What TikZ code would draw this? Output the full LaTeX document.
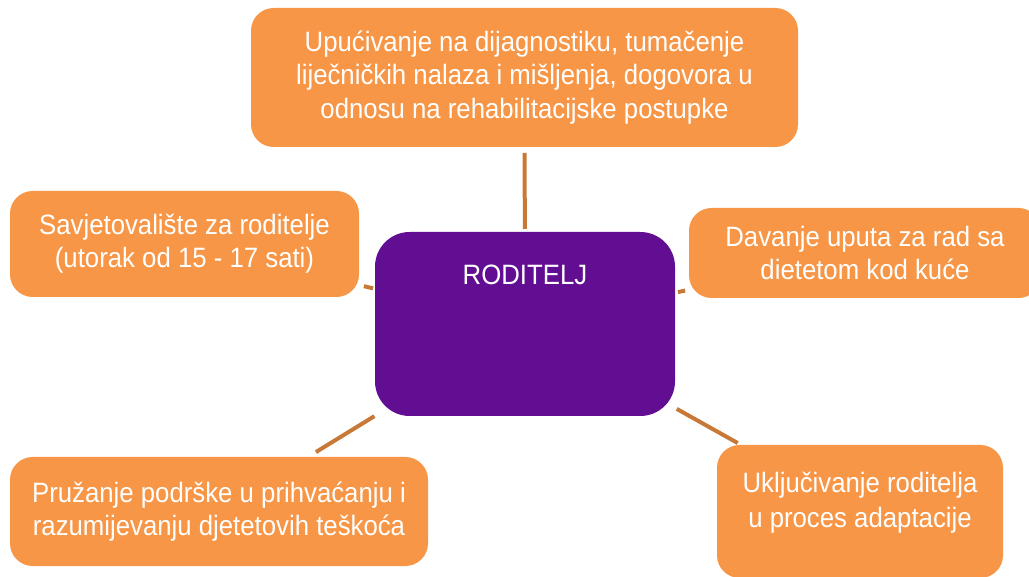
\documentclass[tikz,border=0pt]{standalone}
\usepackage{fontspec}
\setmainfont{Liberation Sans}[FakeStretch=0.92]
\definecolor{boxorange}{RGB}{247,150,70}
\definecolor{hubpurple}{RGB}{98,14,146}
\definecolor{linkbrown}{RGB}{200,120,55}
\begin{document}
\begin{tikzpicture}[x=0.75pt,y=-0.75pt,
  obox/.style={draw=none, fill=boxorange, rounded corners=17pt, inner sep=0pt, outer sep=0pt,
    align=center, text=white, font=\fontsize{21pt}{25pt}\selectfont},
  hub/.style={draw=none, fill=hubpurple, rounded corners=26pt, inner xsep=0pt, inner ysep=0pt, outer sep=0pt,
    text=white, font=\fontsize{21pt}{25pt}\selectfont, minimum width=225pt,
    text height=39.75pt, text depth=98.25pt},
  link/.style={draw=linkbrown, line width=3pt}
]
\useasboundingbox (0,0) rectangle (1029,577);
\clip (0,0) rectangle (1029,577);

\node[hub] (c) at (525,324) {RODITELJ};

\node[obox, minimum width=410.25pt, minimum height=104.25pt] (top) at (524.5,77.5)
  {Upućivanje na dijagnostiku, tumačenje\\liječničkih nalaza i mišljenja, dogovora u\\odnosu na rehabilitacijske postupke};

\node[obox, minimum width=261.75pt, minimum height=79.5pt] (l) at (184.5,244)
  {Savjetovalište za roditelje\\(utorak od 15 - 17 sati)};

\node[obox, minimum width=264pt, minimum height=67.5pt] (r) at (865,253)
  {Davanje uputa za rad sa\\dietetom kod kuće};

\node[obox, minimum width=313.5pt, minimum height=81.75pt] (bl) at (219,511.5)
  {Pružanje podrške u prihvaćanju i\\razumijevanju djetetovih teškoća};

\node[obox, minimum width=214.5pt, minimum height=99.75pt] (br) at (860,511.5)
  {\raisebox{1.5pt}[0pt][0pt]{\renewcommand\arraystretch{1.05}\begin{tabular}{@{}c@{}}Uključivanje roditelja\\u proces adaptacije\end{tabular}}};

\draw[link, shorten <=4.5pt, shorten >=2.25pt] (top) -- (c);
\draw[link, shorten <=3.75pt, shorten >=1.5pt] (l) -- (c);
\draw[link, shorten <=2.25pt, shorten >=3pt] (c) -- (r);
\draw[link, shorten <=1.5pt, shorten >=3pt] (c) -- (br);
\draw[link, shorten <=0.5pt, shorten >=7pt] (c) -- (bl);
\end{tikzpicture}
\end{document}
